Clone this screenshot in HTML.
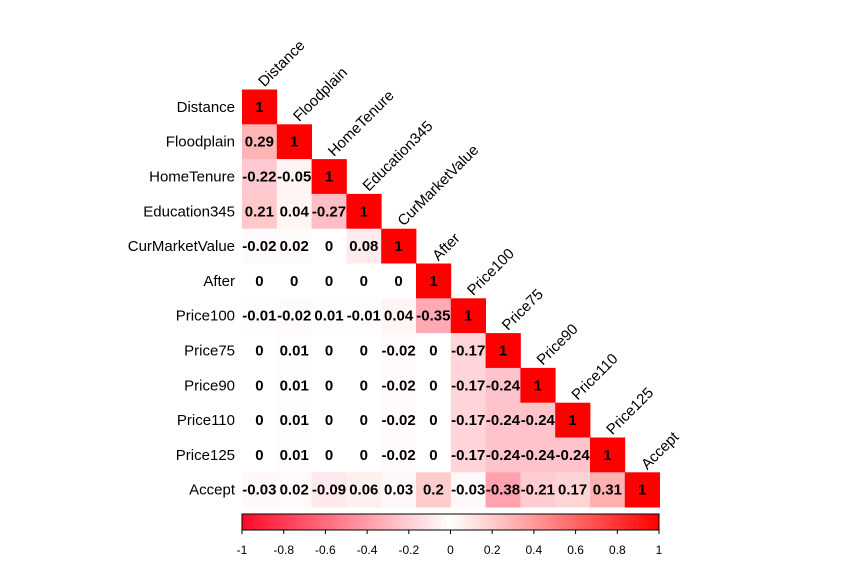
<!DOCTYPE html>
<html><head><meta charset="utf-8"><style>body{margin:0;background:#fff}svg{display:block;font-family:"Liberation Sans",Arial,sans-serif}</style></head>
<body>
<svg id="c" width="864" height="576"></svg>
<script>
const vars=["Distance","Floodplain","HomeTenure","Education345","CurMarketValue","After","Price100","Price75","Price90","Price110","Price125","Accept"];
const r0=[1];
const r1=[0.29,1];
const r2=[-0.22,-0.05,1];
const r3=[0.21,0.04,-0.27,1];
const r4=[-0.02,0.02,0,0.08,1];
const r5=[0,0,0,0,0,1];
const r6=[-0.01,-0.02,0.01,-0.01,0.04,-0.35,1];
const r7=[0,0.01,0,0,-0.02,0,-0.17,1];
const r8=[0,0.01,0,0,-0.02,0,-0.17,-0.24,1];
const r9=[0,0.01,0,0,-0.02,0,-0.17,-0.24,-0.24,1];
const r10=[0,0.01,0,0,-0.02,0,-0.17,-0.24,-0.24,-0.24,1];
const r11=[-0.03,0.02,-0.09,0.06,0.03,0.2,-0.03,-0.38,-0.21,0.17,0.31,1];
const rows=[r0,r1,r2,r3,r4,r5,r6,r7,r8,r9,r10,r11];
const ticks=[-1,-0.8,-0.6,-0.4,-0.2,0,0.2,0.4,0.6,0.8,1];
const NS="http://www.w3.org/2000/svg",svg=document.getElementById("c");
const X0=242,Y0=89.5,S=34.8;
const xs=i=>X0+i*S, ys=i=>Y0+i*S;
function col(v){const t=Math.min(1,Math.abs(v));if(v>=0){const g=Math.round(255*(1-t));return `rgb(255,${g},${g})`;}
 const g=Math.round(255-(255-10)*t),b=Math.round(255-(255-40)*t);return `rgb(255,${g},${b})`;}
function el(n,a){const e=document.createElementNS(NS,n);for(const k in a)e.setAttribute(k,a[k]);svg.appendChild(e);return e;}
function fmt(v){return String(v).replace(/^(-?)0\./,"$10.");}
rows.forEach((row,i)=>{
 const lab=el("text",{x:235,y:ys(i)+S/2+5,"text-anchor":"end","font-size":15});lab.textContent=vars[i];
 
 
 row.forEach((v,j)=>{
  const r=el("rect",{x:xs(j),y:ys(i),width:S+0.4,height:S+0.4,fill:col(v)});
  
  
  const t=el("text",{x:xs(j)+S/2,y:ys(i)+S/2+5,"text-anchor":"middle","font-size":15,"font-weight":"bold"});t.textContent=fmt(v);
  
  
 });
 const cl=el("text",{x:0,y:0,"font-size":15,transform:`translate(${xs(i)+S/2+5},${ys(i)-2}) rotate(-45)`});cl.textContent=vars[i];
 
 
});
const cbx0=242,cbx1=659,cby=514,cbh=16;
const cs=x=>cbx0+(x+1)/2*(cbx1-cbx0);
const N=100;
for(let k=0;k<N;k++){const v=-1+2*(k+0.5)/N;const r=el("rect",{x:cs(-1+2*k/N),y:cby,width:(cbx1-cbx0)/N+0.5,height:cbh,fill:col(v)});
 
 }
const bd=el("rect",{x:cbx0,y:cby,width:cbx1-cbx0,height:cbh,fill:"none",stroke:"#000","stroke-width":1});


ticks.forEach(t=>{const x=cs(t);
 const l=el("line",{x1:x,x2:x,y1:cby+cbh,y2:cby+cbh+4,stroke:"#000"});
 
 
 const tx=el("text",{x:x,y:554,"text-anchor":"middle","font-size":12});tx.textContent=String(t);
 
 });
</script>
</body></html>
